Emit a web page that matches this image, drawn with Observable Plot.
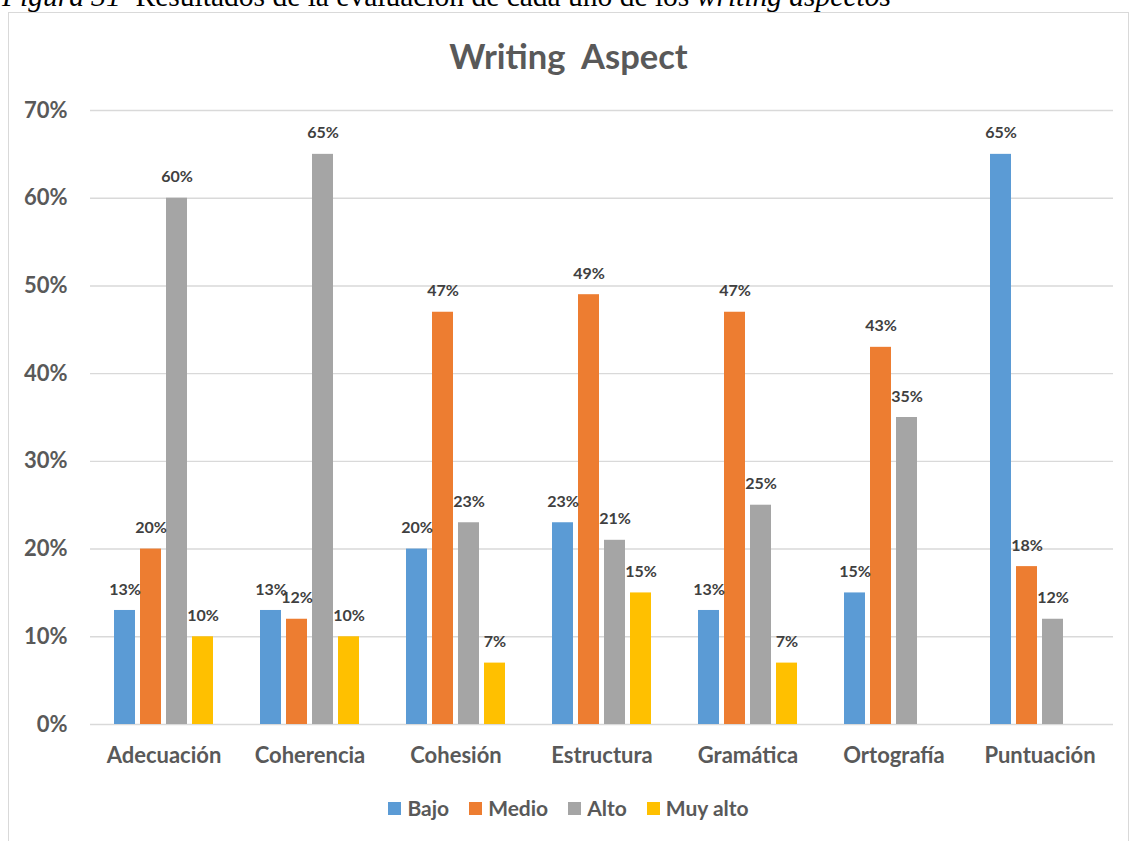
<!DOCTYPE html>
<html>
<head>
<meta charset="utf-8">
<script src="https://cdn.jsdelivr.net/npm/d3@7"></script>
<script src="https://cdn.jsdelivr.net/npm/@observablehq/plot@0.6"></script>
<style>
  html, body { margin: 0; padding: 0; background: #fff; overflow: hidden; }
  body { width: 1131px; height: 841px; position: relative; font-family: Lato, "Open Sans", sans-serif; }
  #caption { position: absolute; left: 2px; top: -18px; font-family: "Liberation Serif", "DejaVu Serif", serif; font-size: 29.5px; line-height: 29.5px; white-space: nowrap; color: #000; }
  #box { position: absolute; left: 8px; top: 12px; width: 1121px; height: 840px; border: 1.5px solid #d9d9d9; box-sizing: border-box; }
  #title { position: absolute; left: 8px; width: 1121px; top: 36px; text-align: center; font-size: 34.5px; font-weight: bold; color: #595959; line-height: 40px; white-space: pre; }
  .layer { position: absolute; left: 0; top: 90px; }
  #legend { position: absolute; left: 8px; width: 1121px; top: 795px; display: flex; justify-content: center; gap: 20px; font-size: 21px; font-weight: bold; color: #595959; line-height: 26px; }
  .item { display: flex; align-items: center; gap: 6px; }
  .sw { width: 13px; height: 13px; display: inline-block; }
</style>
</head>
<body>
<div id="caption"><i>Figura 31</i>&nbsp; Resultados de la evaluación de cada uno de los <i>writing aspectos</i></div>
<div id="box"></div>
<div id="title">Writing  Aspect</div>
<div id="bg" class="layer"></div>
<div id="fg" class="layer"></div>
<div id="legend"></div>
<script>
const categories = ["Adecuación", "Coherencia", "Cohesión", "Estructura", "Gramática", "Ortografía", "Puntuación"];
const seriesNames = ["Bajo", "Medio", "Alto", "Muy alto"];
const colors = ["#5b9bd5", "#ed7d31", "#a5a5a5", "#ffc000"];
const bajo    = [13, 13, 20, 23, 13, 15, 65];
const medio   = [20, 12, 47, 49, 47, 43, 18];
const alto    = [60, 65, 23, 21, 25, 35, 12];
const muyAlto = [10, 10, 7, 15, 7, null, null];
const yTicks = [0, 10, 20, 30, 40, 50, 60, 70];

const seriesValues = [bajo, medio, alto, muyAlto];
const rows = [];
categories.forEach((c, i) => {
  seriesNames.forEach((s, j) => rows.push({category: c, series: s, value: seriesValues[j][i]}));
});

const W = 1131, H = 690;
const margins = {marginLeft: 90, marginRight: 18, marginTop: 20, marginBottom: 56};

const bg = Plot.plot({
  width: W, height: H, ...margins,
  style: {fontFamily: "Lato, 'Open Sans', sans-serif", fontWeight: "bold", fontSize: "22px", color: "#595959", background: "transparent"},
  x: {axis: null, domain: [0, 1]},
  y: {domain: [0, 70], ticks: yTicks, tickFormat: d => d + "%", tickSize: 0, tickPadding: 23, label: null},
  marks: [
    Plot.ruleY(yTicks, {stroke: "#d9d9d9", strokeWidth: 1.4})
  ]
});
document.getElementById("bg").appendChild(bg);

const fg = Plot.plot({
  width: W, height: H, ...margins,
  style: {fontFamily: "Lato, 'Open Sans', sans-serif", fontWeight: "bold", fontSize: "22px", color: "#595959", background: "transparent"},
  facet: {data: rows, x: "category"},
  fx: {domain: categories, paddingInner: 0.31, paddingOuter: 0.155, axis: "bottom", label: null, tickSize: 0, tickPadding: 23},
  x: {domain: seriesNames, paddingInner: 0.21, paddingOuter: 0, axis: null},
  y: {domain: [0, 70], axis: null},
  color: {domain: seriesNames, range: colors},
  marks: [
    Plot.barY(rows, {x: "series", y: "value", fill: "series", filter: d => d.value != null}),
    Plot.text(rows, {filter: d => d.value != null, x: "series", y: "value", text: d => d.value + "%", dy: -21, fontSize: 16, fontWeight: "bold", fill: "#404040"})
  ]
});
document.getElementById("fg").appendChild(fg);

const legend = document.getElementById("legend");
seriesNames.forEach((s, i) => {
  const it = document.createElement("div");
  it.className = "item";
  it.innerHTML = `<span class="sw" style="background:${colors[i]}"></span><span>${s}</span>`;
  legend.appendChild(it);
});
</script>
</body>
</html>
